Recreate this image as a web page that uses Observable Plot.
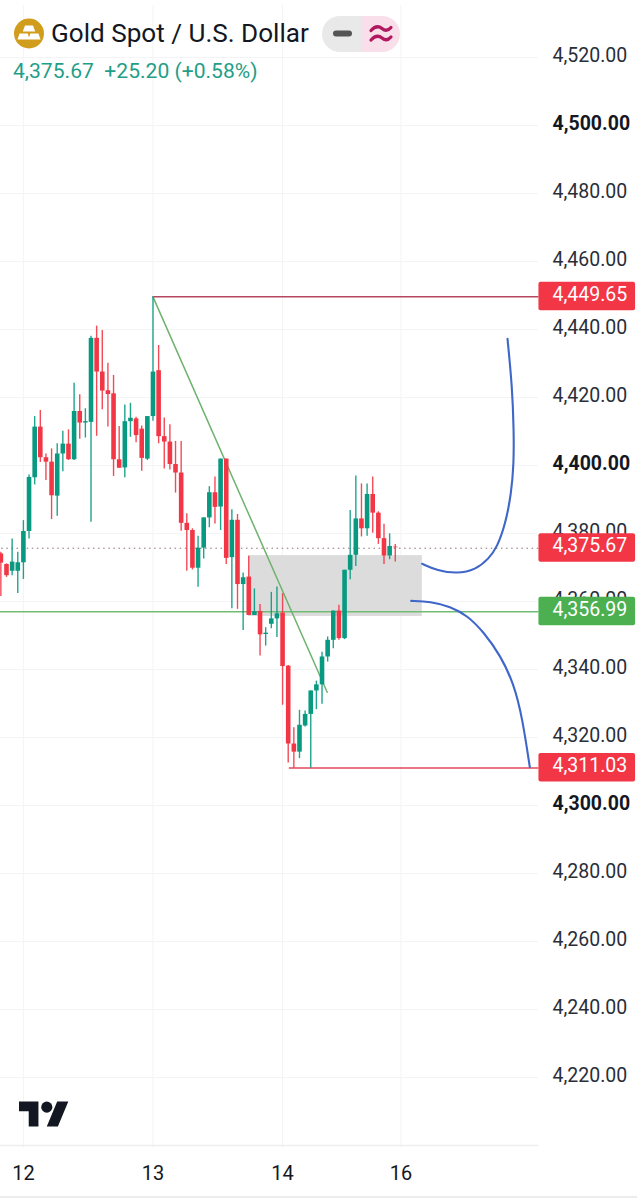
<!DOCTYPE html>
<html>
<head>
<meta charset="utf-8">
<script src="https://cdn.jsdelivr.net/npm/d3@7"></script>
<script src="https://cdn.jsdelivr.net/npm/@observablehq/plot@0.6"></script>
<style>
html,body{margin:0;padding:0;background:#fff;}
#wrap{position:relative;width:641px;height:1200px;overflow:hidden;font-family:Roboto,sans-serif;}
#head{position:absolute;left:0;top:0;width:641px;height:90px;}
#icon{position:absolute;left:14px;top:18px;}
#title{position:absolute;left:51px;top:17px;font-size:26.1px;line-height:32px;color:#131722;white-space:nowrap;margin:0;font-weight:400;}
#sub{position:absolute;left:13px;top:58px;font-size:21.1px;line-height:26px;color:#1f9e88;white-space:pre;}
#pill{position:absolute;left:322px;top:16px;}
#tv{position:absolute;left:19px;top:1096px;}
</style>
</head>
<body>
<div id="wrap">
<div id="chart"></div>
<div id="head">
<svg id="icon" width="30" height="31" viewBox="0 0 30 31">
<circle cx="15" cy="15.5" r="15" fill="#d19d1c"/>
<path d="M11 7.500h8l2.200 6H8.800z M5.500 15.500h8.200l2 6H3.500z M16.300 15.500h8.200l2 6H14.300z" fill="#fff"/>
</svg>
<h1 id="title">Gold Spot / U.S. Dollar</h1>
<div id="sub">4,375.67  +25.20 (+0.58%)</div>
<svg id="pill" width="78" height="36" viewBox="0 0 78 36">
<path d="M18 0H39V36H18A18 18 0 0 1 18 0Z" fill="#e9e9e9"/>
<path d="M39 0H60A18 18 0 0 1 60 36H39Z" fill="#f9dfe9"/>
<path d="M14 17.500H27" stroke="#555" stroke-width="6" stroke-linecap="round"/>
<path d="M49 14.500C53 10 57 10 60 12.500S66 15 69 11.500M49 24C53 19.500 57 19.500 60 22S66 24.500 69 21" fill="none" stroke="#b0185f" stroke-width="3.200" stroke-linecap="round"/>
</svg>
</div>
<svg id="tv" width="50" height="39" viewBox="0 0 36 28">
<path d="M14 22H7V11H0V4h14v18zM28 22h-8l7.500-18h8L28 22z" fill="#131722"/>
<circle cx="20" cy="8" r="4" fill="#131722"/>
</svg>
</div>
<script>
// candle number: 0 is the first hour of the 13th, one hour per candle
const firstCandle = -27;
const opens = [4373.4,4370.3,4368.3,4368.3,4370.8,4380.0,4395.8,4410.7,4401.7,4400.4,4390.4,4402.8,4405.7,4401.1,4415.3,4411.9,4412.1,4436.8,4426.9,4421.4,4420.5,4401.1,4398.7,4412.3,4413.1,4410.1,4401.3,
  4413.8,4427.3,4407.9,4406.3,4399.7,4397.2,4382.4,4380.3,4369.2,4375.1,4384.0,4391.4,4387.2,4401.3,4372.3,4383.3,4364.4,4366.6,4355.3,4356.5,4349.7,4352.7,4354.3,
  4356.0,4340.4,4317.5,4315.1,4322.8,4326.2,4333.1,4334.9,4343.1,4348.0,4356.6,4348.5,4368.6,4373.0,4383.7,4380.8,4390.9,4385.4,4377.9,4372.8,4375.4];
const closes = [4370.7,4367.0,4371.0,4370.8,4380.0,4395.9,4410.7,4401.7,4400.4,4390.5,4402.8,4405.7,4401.1,4415.3,4411.9,4412.3,4436.8,4426.9,4421.3,4420.3,4401.1,4398.6,4412.3,4413.3,4408.2,4401.5,4413.8,
  4426.9,4407.9,4406.3,4399.7,4397.2,4382.4,4380.3,4369.2,4375.1,4384.0,4391.4,4387.1,4401.3,4372.1,4383.3,4364.4,4366.4,4355.3,4356.4,4349.6,4350.1,4354.3,4355.8,
  4340.3,4317.5,4315.1,4323.0,4326.2,4333.1,4334.9,4343.1,4348.0,4356.6,4348.5,4368.6,4373.0,4383.7,4380.8,4390.9,4385.4,4377.9,4372.8,4375.6,4375.2];
const highs = [4373.9,4370.5,4377.8,4373.9,4383.2,4396.6,4413.8,4415.6,4402.8,4404.3,4405.8,4409.5,4409.9,4423.6,4420.2,4416.1,4437.4,4440.4,4439.1,4429.5,4425.9,4410.9,4417.2,4417.7,4413.6,4411.0,4413.8,
  4449.0,4434.7,4413.4,4411.4,4406.5,4406.5,4385.2,4380.8,4378.6,4384.0,4393.2,4396.0,4401.3,4401.3,4386.4,4385.0,4367.8,4372.7,4363.1,4358.5,4351.7,4362.1,4363.7,
  4361.7,4340.6,4322.3,4327.4,4327.2,4333.1,4336.0,4344.5,4349.0,4356.6,4358.3,4368.6,4386.2,4396.3,4394.0,4394.0,4396.0,4385.8,4382.1,4379.3,4376.2];
const lows = [4360.9,4366.5,4367.0,4361.8,4365.9,4377.8,4393.7,4400.3,4395.0,4383.5,4384.5,4397.6,4400.9,4400.9,4407.1,4407.5,4382.7,4408.0,4415.8,4410.7,4396.2,4398.6,4395.8,4407.7,4406.1,4397.7,4400.9,
  4412.4,4405.8,4398.4,4398.1,4391.3,4380.1,4368.3,4368.7,4363.6,4371.9,4381.1,4382.2,4380.3,4370.3,4357.3,4357.1,4350.9,4355.3,4355.3,4343.4,4346.3,4351.4,4348.8,
  4328.9,4311.9,4310.4,4313.2,4322.5,4310.4,4327.6,4329.2,4341.6,4345.5,4348.0,4348.2,4365.8,4369.7,4378.4,4378.6,4379.5,4376.2,4370.3,4371.7,4371.0];
const upTone = [0,0,1,1,1,1,1,0,0,0,1,1,0,1,0,1,1,0,0,0,0,0,1,1,0,0,1,
  1,0,0,0,0,0,0,0,1,1,1,0,1,0,1,0,1,0,1,0,1,1,1,
  0,0,0,1,1,1,1,1,1,1,0,1,1,1,0,1,0,0,0,1,0];

const dayTicks = [-23,0,23,44];
const dayLabels = ["12","13","14","16"];
const priceTicks = [4220,4240,4260,4280,4320,4340,4360,4380,4420,4440,4460,4480,4520];
const boldTicks = [4300,4400,4500];
const gridPrices = [...priceTicks,...boldTicks];

const lastPrice = 4375.67, supportPrice = 4356.99, highPrice = 4449.65, lowPrice = 4311.03;

const upCurveX = [47.78,50.44,54.0,57.24,59.6,61.09,62.57,63.58,64.04,64.04,63.76,62.92];
const upCurveY = [4370.5,4368.5,4367.6,4368.7,4372.0,4375.4,4382.3,4391.1,4399.9,4409.7,4422.4,4436.7];
const downCurveX = [45.83,49.25,52.8,55.77,58.71,61.68,64.04,65.53,66.88];
const downCurveY = [4359.6,4359.4,4357.9,4355.3,4350.4,4343.5,4335.2,4325.4,4310.7];

const tags = [
  {price:highPrice, fill:"#f23645"},
  {price:lastPrice, fill:"#f23645"},
  {price:supportPrice, fill:"#4caf50"},
  {price:lowPrice, fill:"#f23645"}
];

const UP="#089981", DOWN="#f23645", GRID="#f3f4f6", INK="#131722";
const FONT=19.5;
const edge = 68.5, tagEnd = 85.65, tagText = 70.9;
const LINE_SHIFT = 2;

const candles = opens.map((o,i)=>({t:firstCandle+i,o,c:closes[i],h:highs[i],l:lows[i],col:upTone[i]?UP:DOWN}));
const zip=(xs,ys)=>xs.map((x,i)=>({x,y:ys[i]}));

const chart = Plot.plot({
  width:641, height:1200,
  marginLeft:0, marginRight:103, marginTop:5, marginBottom:52,
  style:{fontFamily:"Roboto, sans-serif", background:"#fff", overflow:"hidden"},
  x:{domain:[-23,44], range:[22.9,400.4]},
  y:{domain:[4520,4220], range:[55,1075]},
  marks:[
    Plot.gridY(gridPrices,{stroke:GRID,strokeOpacity:1,strokeWidth:1,dy:LINE_SHIFT}),
    Plot.gridX(dayTicks,{stroke:GRID,strokeOpacity:1,strokeWidth:1}),
    Plot.ruleY([4199.4],{x1:-35,x2:edge,stroke:"#eeeeee",strokeWidth:1.5}),
    Plot.ruleY([4184.3],{x1:-35,x2:86,stroke:"#e6e6e6",strokeWidth:1.5}),
    Plot.axisY(priceTicks,{anchor:"right",tickSize:0,tickPadding:14,tickFormat:d3.format(",.2f"),fontSize:FONT,fill:"#2a2e39",label:null}),
    Plot.axisY(boldTicks,{anchor:"right",tickSize:0,tickPadding:14,tickFormat:d3.format(",.2f"),fontSize:FONT,fontWeight:700,fill:INK,label:null}),
    Plot.axisX(dayTicks,{anchor:"bottom",tickSize:0,tickPadding:17,tickFormat:(d,i)=>dayLabels[i],fontSize:20,fill:INK,label:null}),
    Plot.rect([0],{x1:16.95,x2:47.8,y1:4372.9,y2:4355,fill:"#dcdcdc"}),
    Plot.ruleY([lastPrice],{x1:-35,x2:edge,stroke:"#8a6f73",strokeWidth:1,strokeDasharray:"1.5 3.6",dy:LINE_SHIFT}),
    Plot.ruleY([supportPrice],{x1:-35,x2:edge,stroke:"#72bb74",strokeWidth:1.3,dy:LINE_SHIFT}),
    Plot.ruleY([highPrice],{x1:0,x2:edge,stroke:"#b5475f",strokeWidth:1.6,dy:LINE_SHIFT}),
    Plot.ruleY([lowPrice],{x1:24.2,x2:edge,stroke:"#e4475c",strokeWidth:1.6,dy:LINE_SHIFT}),
    Plot.line([{x:0,y:4449.0},{x:30.92,y:4332.7}],{x:"x",y:"y",stroke:"#6fb26f",strokeWidth:1.5}),
    Plot.ruleX(candles,{x:"t",y1:"l",y2:"h",stroke:"col",strokeWidth:1.4,strokeOpacity:0.9}),
    Plot.ruleX(candles,{x:"t",y1:"o",y2:"c",stroke:"col",strokeWidth:4.6}),
    Plot.line(zip(upCurveX,upCurveY),{x:"x",y:"y",curve:"basis",stroke:"#3f66c9",strokeWidth:2.1}),
    Plot.line(zip(downCurveX,downCurveY),{x:"x",y:"y",curve:"basis",stroke:"#3f66c9",strokeWidth:2.1}),
    Plot.rect(tags,{x1:edge,x2:tagEnd,y1:d=>d.price+4.1,y2:d=>d.price-4.3,fill:"fill",rx:2,dy:1.4}),
    Plot.text(tags,{x:tagText,y:"price",text:d=>d3.format(",.2f")(d.price),textAnchor:"start",fill:"#fff",fontSize:FONT})
  ]
});
document.getElementById("chart").appendChild(chart);
</script>
</body>
</html>
